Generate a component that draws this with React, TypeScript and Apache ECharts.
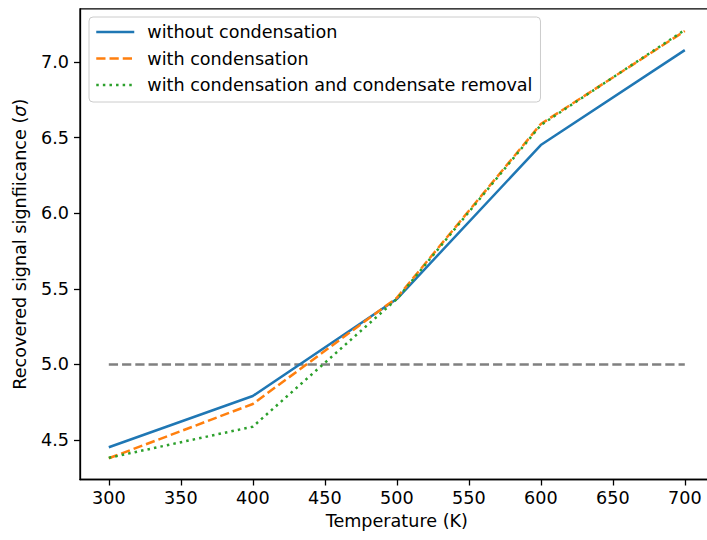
import React, { useEffect, useRef } from "react";
import * as echarts from "echarts";

const temperatures = [300, 400, 500, 600, 700];
const withoutCondensation = [4.452, 4.791, 5.432, 6.451, 7.079];
const withCondensation = [4.379, 4.738, 5.44, 6.59, 7.205];
const withRemoval = [4.382, 4.588, 5.432, 6.583, 7.212];
const thresholdX = [300, 700];
const thresholdY = [5.0, 5.0];
const xTicks = [300, 350, 400, 450, 500, 550, 600, 650, 700];
const yTicks = [4.5, 5.0, 5.5, 6.0, 6.5, 7.0];

const FONT = "DejaVu Sans";
const FS = 17.6;

export default function App() {
  const ref = useRef<HTMLDivElement>(null);
  useEffect(() => {
    document.body.style.margin = "0";
    if (!ref.current) return;
    const chart = echarts.init(ref.current, null, { renderer: "svg" });
    const pairs = (xs: number[], ys: number[]) => xs.map((x, i) => [x, ys[i]]);
    const lineSeries = (name: string, ys: number[], color: string, type: any, z: number) => ({
      name,
      type: "line",
      data: pairs(temperatures, ys),
      showSymbol: false,
      symbol: "none",
      z,
      lineStyle: { color, width: 2.5, type, cap: "butt" },
      itemStyle: { color },
    });
    chart.setOption({
      animation: false,
      backgroundColor: "#ffffff",
      textStyle: { fontFamily: FONT },
      grid: {
        left: 80,
        top: 8.9,
        width: 633.6,
        height: 470.6,
        show: true,
        borderColor: "#000",
        borderWidth: 1.3,
        backgroundColor: "transparent",
        containLabel: false,
        outerBoundsMode: "none",
      },
      legend: {
        left: 89,
        top: 17,
        orient: "vertical",
        itemWidth: 38,
        itemHeight: 14,
        itemGap: 8.5,
        padding: [6, 8, 8, 6],
        backgroundColor: "rgba(255,255,255,0.8)",
        borderColor: "#cccccc",
        borderWidth: 1,
        borderRadius: 4,
        itemStyle: { opacity: 0 },
        lineStyle: { width: 2.5 },
        data: [
          "without condensation",
          "with condensation",
          "with condensation and condensate removal",
        ],
        textStyle: { fontFamily: FONT, fontSize: FS, color: "#000", padding: [0, 0, 0, 8] },
      },
      xAxis: {
        type: "value",
        min: 280,
        max: 720,
        name: "Temperature (K)",
        nameLocation: "middle",
        nameGap: 32,
        nameTextStyle: { fontFamily: FONT, fontSize: FS, color: "#000" },
        splitLine: { show: false },
        axisLine: { show: true, onZero: false, lineStyle: { color: "#000", width: 1.3 } },
        axisTick: { show: true, length: 6, lineStyle: { color: "#000", width: 1.3 }, customValues: xTicks },
        axisLabel: {
          fontFamily: FONT,
          fontSize: FS,
          color: "#000",
          margin: 9,
          customValues: xTicks,
          formatter: (v: number) => String(Math.round(v)),
        },
      },
      yAxis: {
        type: "value",
        min: 4.2385,
        max: 7.3515,
        name: "{n|Recovered signal signfiicance (}{i|σ}{n|)}",
        nameLocation: "middle",
        nameGap: 51,
        nameTextStyle: {
          fontFamily: FONT,
          fontSize: FS,
          color: "#000",
          rich: {
            n: { fontFamily: FONT, fontSize: FS, color: "#000" },
            i: { fontFamily: FONT, fontSize: FS, color: "#000", fontStyle: "italic" },
          },
        },
        splitLine: { show: false },
        axisLine: { show: true, onZero: false, lineStyle: { color: "#000", width: 1.3 } },
        axisTick: { show: true, length: 6, lineStyle: { color: "#000", width: 1.3 }, customValues: yTicks },
        axisLabel: {
          fontFamily: FONT,
          fontSize: FS,
          color: "#000",
          margin: 11,
          customValues: yTicks,
          formatter: (v: number) => v.toFixed(1),
        },
      },
      series: [
        {
          name: "threshold",
          type: "line",
          data: pairs(thresholdX, thresholdY),
          showSymbol: false,
          symbol: "none",
          z: 1,
          lineStyle: { color: "#808080", width: 2.5, type: [9.25, 4] },
        },
        lineSeries("without condensation", withoutCondensation, "#1f77b4", "solid", 2),
        lineSeries("with condensation", withCondensation, "#ff7f0e", [9.25, 4], 3),
        lineSeries("with condensation and condensate removal", withRemoval, "#2ca02c", [2.5, 4.1], 4),
      ],
    });
    return () => chart.dispose();
  }, []);
  return <div ref={ref} style={{ width: 707, height: 540 }} />;
}
